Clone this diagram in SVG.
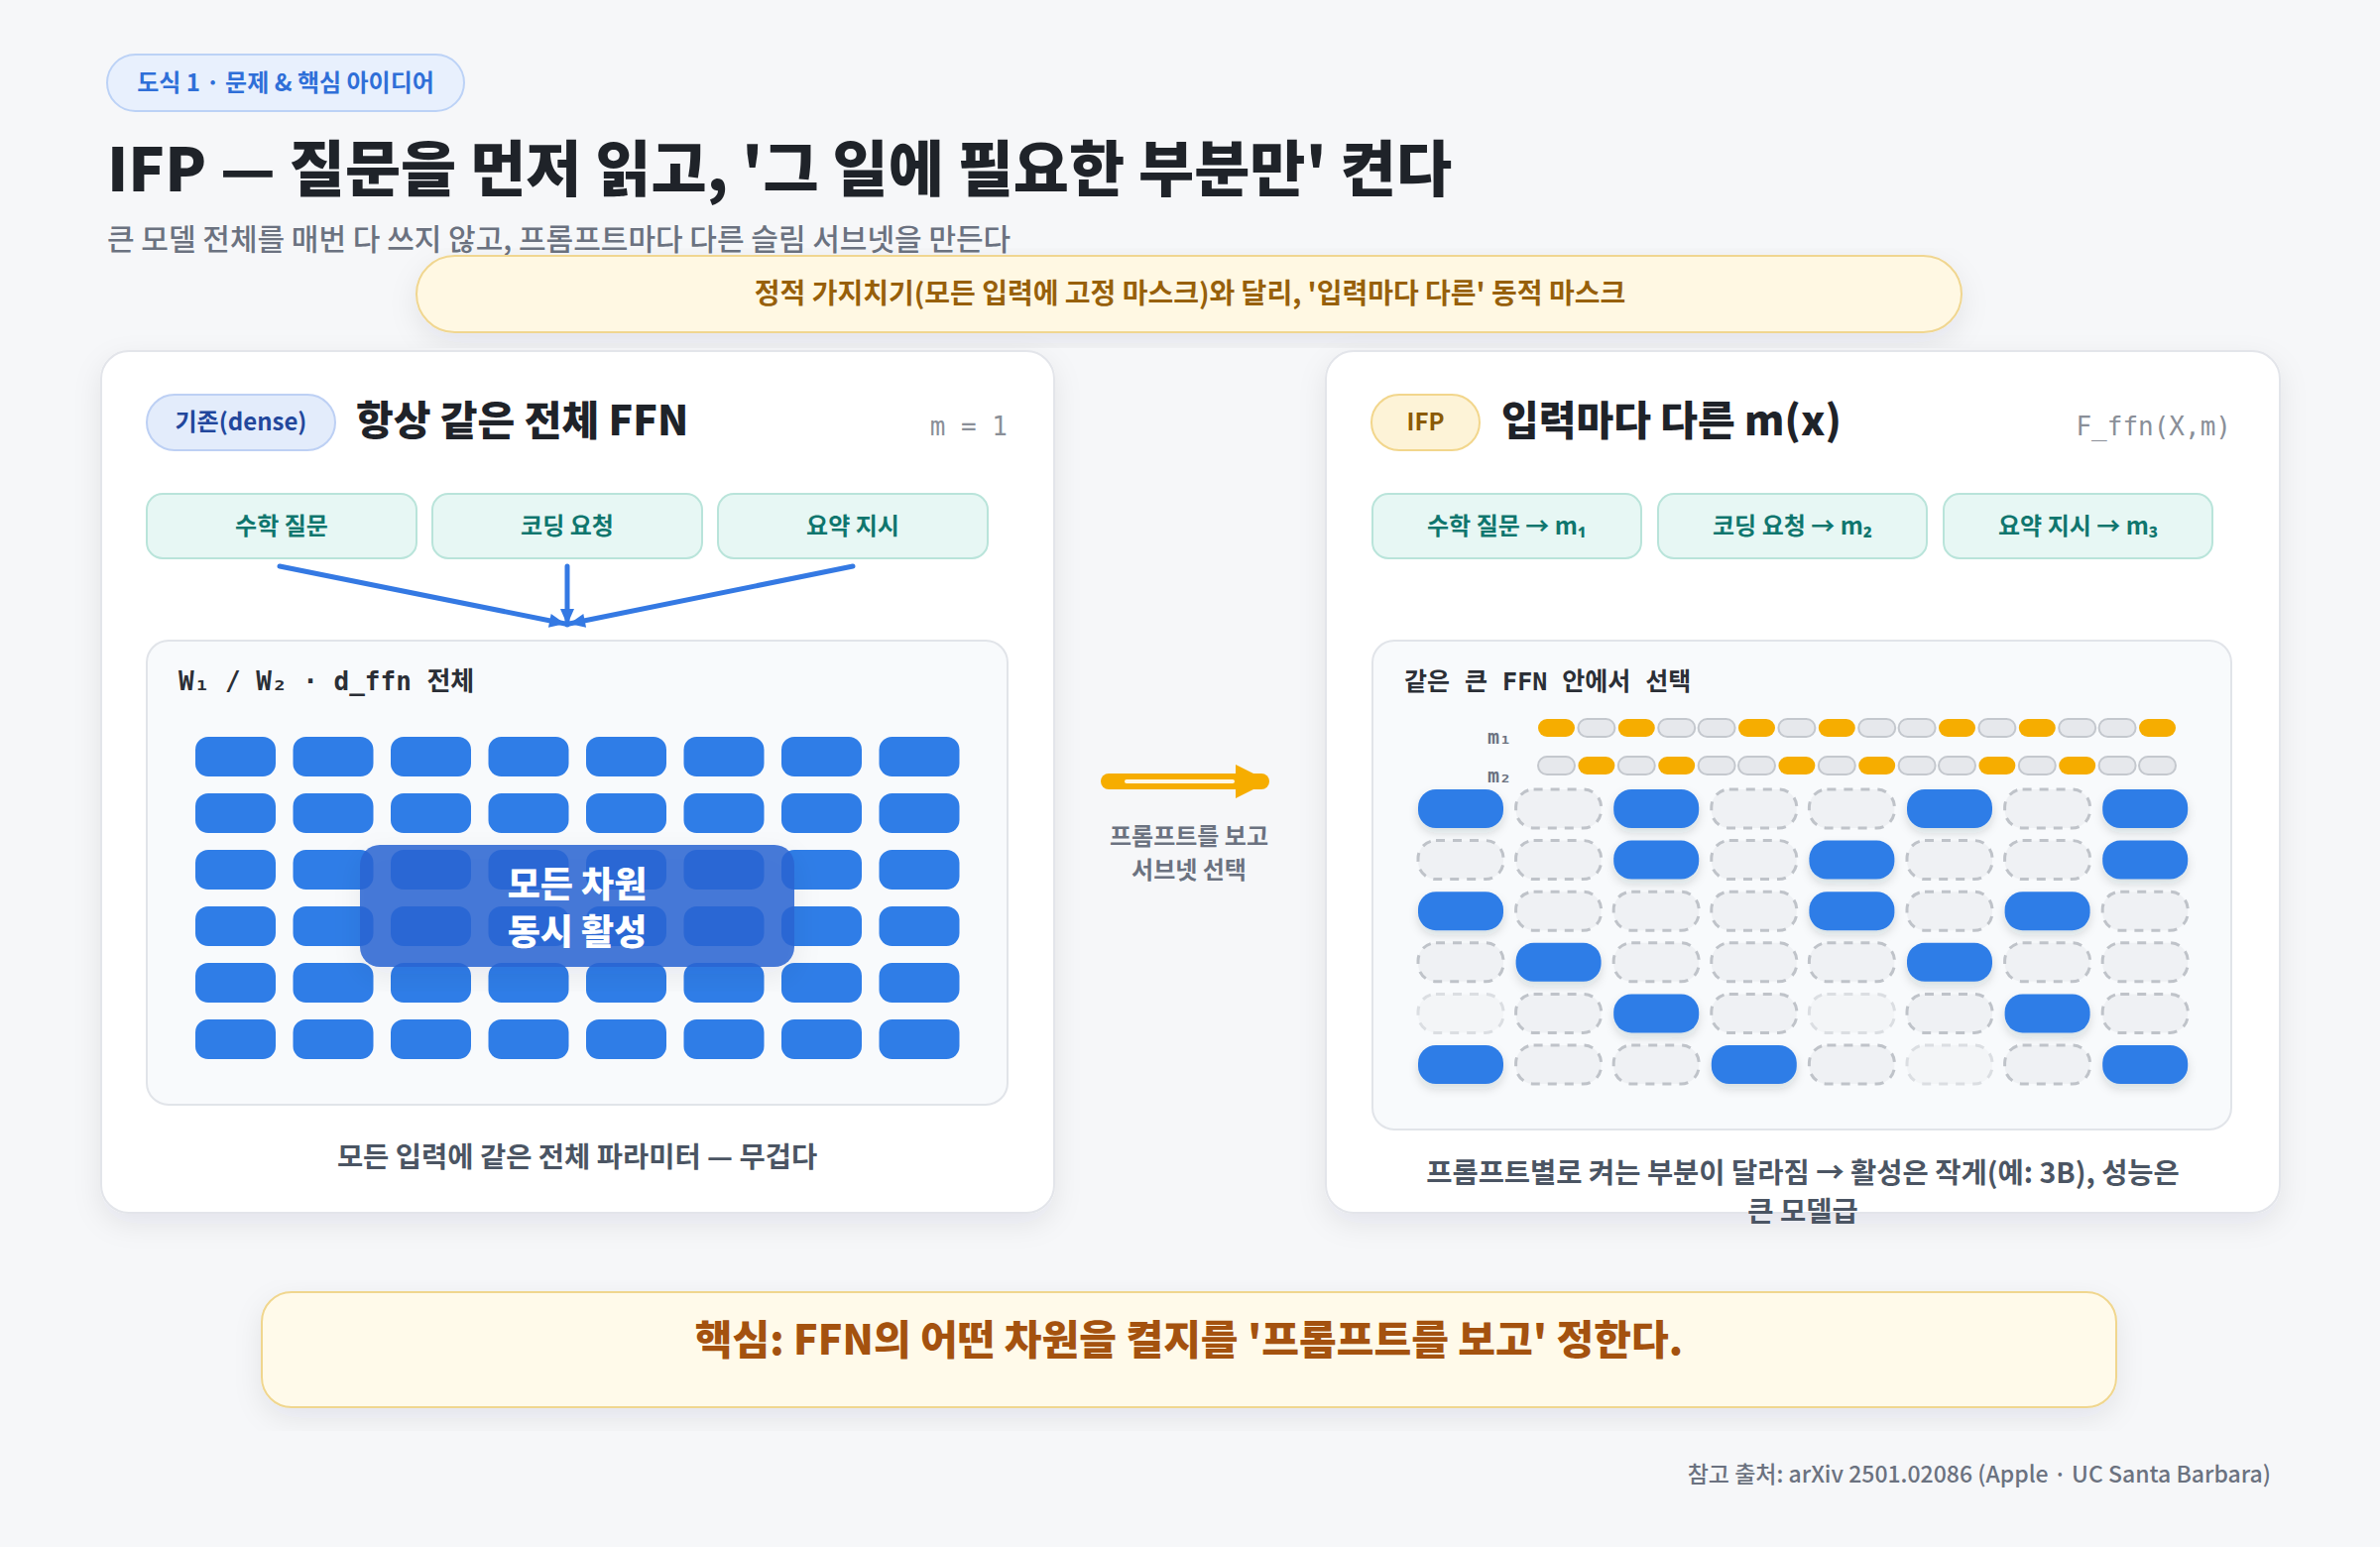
<svg xmlns="http://www.w3.org/2000/svg" width="2400" height="1560" viewBox="0 0 2400 1560">
<defs>
<filter id="shadow" x="-10%" y="-10%" width="120%" height="130%">
<feDropShadow dx="0" dy="10" stdDeviation="14" flood-color="#1f2937" flood-opacity="0.08"/>
</filter>
<filter id="cellShadow" x="-20%" y="-30%" width="140%" height="190%">
<feDropShadow dx="0" dy="5" stdDeviation="5" flood-color="#1f2937" flood-opacity="0.14"/>
</filter>
<marker id="blueHead" markerUnits="userSpaceOnUse" markerWidth="20" markerHeight="20" viewBox="0 0 20 20" refX="18" refY="10" orient="auto">
<path d="M2,3 L18,10 L2,17 Z" fill="#3479e3"/>
</marker>
<style>
text{font-family:"Noto Sans CJK KR","Noto Sans",sans-serif;}
.mono{font-family:"DejaVu Sans Mono","Liberation Mono","Noto Sans CJK KR",monospace;}
.panel{fill:#ffffff;stroke:#e3e5ea;stroke-width:2;}
.inner{fill:#f8fafc;stroke:#e1e4e9;stroke-width:2;}
.inbox{fill:#e7f7f4;stroke:#b9e4da;stroke-width:2;}
.intext{font-size:24px;font-weight:700;fill:#0f766e;text-anchor:middle;}
.cell{fill:#2f7de7;}
.bcell{fill:#2f7de7;}
.dcell{fill:#eff1f4;stroke:#bfc3c9;stroke-width:3;stroke-dasharray:9 8;}
.faded{opacity:0.5;}
.mon{fill:#f6ad00;}
.moff{fill:#e6e8ec;stroke:#c4c8ce;stroke-width:2;}
.conn{stroke:#3479e3;stroke-width:5;stroke-linecap:round;fill:none;}
</style>
</defs>

<rect x="0" y="0" width="2400" height="1560" fill="#f6f7f9"/>

<g id="header">
<rect x="108" y="55" width="360" height="57" rx="28.5" fill="#e8f0fd" stroke="#bcd2f6" stroke-width="2"/>
<text x="288" y="92" font-size="24" font-weight="700" fill="#2f6fd8" text-anchor="middle">도식 1 · 문제 &amp; 핵심 아이디어</text>
<text x="108" y="193" font-size="61" font-weight="900" fill="#1f2329">IFP — 질문을 먼저 읽고, '그 일에 필요한 부분만' 켠다</text>
<text x="108" y="252" font-size="30" font-weight="500" fill="#6b7280">큰 모델 전체를 매번 다 쓰지 않고, 프롬프트마다 다른 슬림 서브넷을 만든다</text>
</g>

<g id="note-banner">
<rect x="420" y="258" width="1558" height="77" rx="38.5" fill="#fff8e3" stroke="#f0d690" stroke-width="2" filter="url(#shadow)"/>
<text x="1200" y="306" font-size="28" font-weight="700" fill="#97600a" text-anchor="middle">정적 가지치기(모든 입력에 고정 마스크)와 달리, '입력마다 다른' 동적 마스크</text>
</g>

<g id="left-panel">
<rect class="panel" x="102" y="354" width="961" height="869" rx="28" filter="url(#shadow)"/>
<rect x="148" y="398" width="190" height="56" rx="28" fill="#e3ecfb" stroke="#bdd0f4" stroke-width="2"/>
<text x="243" y="434" font-size="24" font-weight="700" fill="#22479c" text-anchor="middle">기존(dense)</text>
<text x="359" y="439" font-size="41" font-weight="900" fill="#1f2329">항상 같은 전체 FFN</text>
<text class="mono" x="1016" y="439" font-size="26" fill="#8a8f98" text-anchor="end">m = 1</text>
</g>

<g id="left-input-math"><rect class="inbox" x="148" y="498" width="272" height="65" rx="16"/><text class="intext" x="284" y="539">수학 질문</text></g>
<g id="left-input-code"><rect class="inbox" x="436" y="498" width="272" height="65" rx="16"/><text class="intext" x="572" y="539">코딩 요청</text></g>
<g id="left-input-sum"><rect class="inbox" x="724" y="498" width="272" height="65" rx="16"/><text class="intext" x="860" y="539">요약 지시</text></g>

<g id="left-ffn">
<rect class="inner" x="148" y="646" width="868" height="468" rx="22"/>
<text class="mono" x="180" y="696" font-size="26" font-weight="700" fill="#2b2f36">W₁ / W₂ · d_ffn 전체</text>
<g>
<rect class="cell" x="197" y="743" width="81" height="40" rx="13"/><rect class="cell" x="295.5" y="743" width="81" height="40" rx="13"/><rect class="cell" x="394" y="743" width="81" height="40" rx="13"/><rect class="cell" x="492.5" y="743" width="81" height="40" rx="13"/><rect class="cell" x="591" y="743" width="81" height="40" rx="13"/><rect class="cell" x="689.5" y="743" width="81" height="40" rx="13"/><rect class="cell" x="788" y="743" width="81" height="40" rx="13"/><rect class="cell" x="886.5" y="743" width="81" height="40" rx="13"/>
<rect class="cell" x="197" y="800" width="81" height="40" rx="13"/><rect class="cell" x="295.5" y="800" width="81" height="40" rx="13"/><rect class="cell" x="394" y="800" width="81" height="40" rx="13"/><rect class="cell" x="492.5" y="800" width="81" height="40" rx="13"/><rect class="cell" x="591" y="800" width="81" height="40" rx="13"/><rect class="cell" x="689.5" y="800" width="81" height="40" rx="13"/><rect class="cell" x="788" y="800" width="81" height="40" rx="13"/><rect class="cell" x="886.5" y="800" width="81" height="40" rx="13"/>
<rect class="cell" x="197" y="857" width="81" height="40" rx="13"/><rect class="cell" x="295.5" y="857" width="81" height="40" rx="13"/><rect class="cell" x="394" y="857" width="81" height="40" rx="13"/><rect class="cell" x="492.5" y="857" width="81" height="40" rx="13"/><rect class="cell" x="591" y="857" width="81" height="40" rx="13"/><rect class="cell" x="689.5" y="857" width="81" height="40" rx="13"/><rect class="cell" x="788" y="857" width="81" height="40" rx="13"/><rect class="cell" x="886.5" y="857" width="81" height="40" rx="13"/>
<rect class="cell" x="197" y="914" width="81" height="40" rx="13"/><rect class="cell" x="295.5" y="914" width="81" height="40" rx="13"/><rect class="cell" x="394" y="914" width="81" height="40" rx="13"/><rect class="cell" x="492.5" y="914" width="81" height="40" rx="13"/><rect class="cell" x="591" y="914" width="81" height="40" rx="13"/><rect class="cell" x="689.5" y="914" width="81" height="40" rx="13"/><rect class="cell" x="788" y="914" width="81" height="40" rx="13"/><rect class="cell" x="886.5" y="914" width="81" height="40" rx="13"/>
<rect class="cell" x="197" y="971" width="81" height="40" rx="13"/><rect class="cell" x="295.5" y="971" width="81" height="40" rx="13"/><rect class="cell" x="394" y="971" width="81" height="40" rx="13"/><rect class="cell" x="492.5" y="971" width="81" height="40" rx="13"/><rect class="cell" x="591" y="971" width="81" height="40" rx="13"/><rect class="cell" x="689.5" y="971" width="81" height="40" rx="13"/><rect class="cell" x="788" y="971" width="81" height="40" rx="13"/><rect class="cell" x="886.5" y="971" width="81" height="40" rx="13"/>
<rect class="cell" x="197" y="1028" width="81" height="40" rx="13"/><rect class="cell" x="295.5" y="1028" width="81" height="40" rx="13"/><rect class="cell" x="394" y="1028" width="81" height="40" rx="13"/><rect class="cell" x="492.5" y="1028" width="81" height="40" rx="13"/><rect class="cell" x="591" y="1028" width="81" height="40" rx="13"/><rect class="cell" x="689.5" y="1028" width="81" height="40" rx="13"/><rect class="cell" x="788" y="1028" width="81" height="40" rx="13"/><rect class="cell" x="886.5" y="1028" width="81" height="40" rx="13"/>
</g>
<rect x="363" y="852" width="438" height="123" rx="20" fill="#2a64d2" fill-opacity="0.86" filter="url(#shadow)"/>
<text x="582" y="905" font-size="36" font-weight="800" fill="#ffffff" text-anchor="middle">모든 차원</text>
<text x="582" y="953" font-size="36" font-weight="800" fill="#ffffff" text-anchor="middle">동시 활성</text>
</g>
<text x="582" y="1177" font-size="28.5" font-weight="600" fill="#4b5563" text-anchor="middle">모든 입력에 같은 전체 파라미터 — 무겁다</text>

<g id="right-panel">
<rect class="panel" x="1337" y="354" width="962" height="869" rx="28" filter="url(#shadow)"/>
<rect x="1383" y="398" width="109" height="56" rx="28" fill="#fdf3d7" stroke="#f2d68c" stroke-width="2"/>
<text x="1437.5" y="434" font-size="24" font-weight="700" fill="#8a5a05" text-anchor="middle">IFP</text>
<text x="1514" y="439" font-size="41" font-weight="900" fill="#1f2329">입력마다 다른 m(x)</text>
<text class="mono" x="2250" y="439" font-size="26" fill="#8a8f98" text-anchor="end">F_ffn(X,m)</text>
</g>

<g id="right-input-math"><rect class="inbox" x="1384" y="498" width="271" height="65" rx="16"/><text class="intext" x="1519.5" y="539">수학 질문 → m₁</text></g>
<g id="right-input-code"><rect class="inbox" x="1672" y="498" width="271" height="65" rx="16"/><text class="intext" x="1807.5" y="539">코딩 요청 → m₂</text></g>
<g id="right-input-sum"><rect class="inbox" x="1960" y="498" width="271" height="65" rx="16"/><text class="intext" x="2095.5" y="539">요약 지시 → m₃</text></g>

<g id="right-ffn">
<rect class="inner" x="1384" y="646" width="866" height="493" rx="22"/>
<text class="mono" x="1416" y="696" font-size="25" font-weight="700" fill="#2b2f36">같은 큰 FFN 안에서 선택</text>
<text class="mono" x="1524" y="750" font-size="20" font-weight="700" fill="#6b7280" text-anchor="end">m₁</text>
<text class="mono" x="1524" y="789" font-size="20" font-weight="700" fill="#6b7280" text-anchor="end">m₂</text>
<g id="mask-m1">
<rect class="mon" x="1551" y="725" width="37" height="18" rx="9"/><rect class="moff" x="1591.4" y="725" width="37" height="18" rx="9"/><rect class="mon" x="1631.8" y="725" width="37" height="18" rx="9"/><rect class="moff" x="1672.2" y="725" width="37" height="18" rx="9"/><rect class="moff" x="1712.6" y="725" width="37" height="18" rx="9"/><rect class="mon" x="1753" y="725" width="37" height="18" rx="9"/><rect class="moff" x="1793.4" y="725" width="37" height="18" rx="9"/><rect class="mon" x="1833.8" y="725" width="37" height="18" rx="9"/><rect class="moff" x="1874.2" y="725" width="37" height="18" rx="9"/><rect class="moff" x="1914.6" y="725" width="37" height="18" rx="9"/><rect class="mon" x="1955" y="725" width="37" height="18" rx="9"/><rect class="moff" x="1995.4" y="725" width="37" height="18" rx="9"/><rect class="mon" x="2035.8" y="725" width="37" height="18" rx="9"/><rect class="moff" x="2076.2" y="725" width="37" height="18" rx="9"/><rect class="moff" x="2116.6" y="725" width="37" height="18" rx="9"/><rect class="mon" x="2157" y="725" width="37" height="18" rx="9"/>
</g>
<g id="mask-m2">
<rect class="moff" x="1551" y="763" width="37" height="18" rx="9"/><rect class="mon" x="1591.4" y="763" width="37" height="18" rx="9"/><rect class="moff" x="1631.8" y="763" width="37" height="18" rx="9"/><rect class="mon" x="1672.2" y="763" width="37" height="18" rx="9"/><rect class="moff" x="1712.6" y="763" width="37" height="18" rx="9"/><rect class="moff" x="1753" y="763" width="37" height="18" rx="9"/><rect class="mon" x="1793.4" y="763" width="37" height="18" rx="9"/><rect class="moff" x="1833.8" y="763" width="37" height="18" rx="9"/><rect class="mon" x="1874.2" y="763" width="37" height="18" rx="9"/><rect class="moff" x="1914.6" y="763" width="37" height="18" rx="9"/><rect class="moff" x="1955" y="763" width="37" height="18" rx="9"/><rect class="mon" x="1995.4" y="763" width="37" height="18" rx="9"/><rect class="moff" x="2035.8" y="763" width="37" height="18" rx="9"/><rect class="mon" x="2076.2" y="763" width="37" height="18" rx="9"/><rect class="moff" x="2116.6" y="763" width="37" height="18" rx="9"/><rect class="moff" x="2157" y="763" width="37" height="18" rx="9"/>
</g>
<g id="subnet">
<!-- row 1: B D B D D B D B -->
<rect class="bcell" filter="url(#cellShadow)" x="1430" y="796" width="86" height="39" rx="18"/>
<rect class="dcell" x="1528.6" y="796" width="86" height="39" rx="18"/>
<rect class="bcell" filter="url(#cellShadow)" x="1627.2" y="796" width="86" height="39" rx="18"/>
<rect class="dcell" x="1725.8" y="796" width="86" height="39" rx="18"/>
<rect class="dcell" x="1824.4" y="796" width="86" height="39" rx="18"/>
<rect class="bcell" filter="url(#cellShadow)" x="1923" y="796" width="86" height="39" rx="18"/>
<rect class="dcell" x="2021.6" y="796" width="86" height="39" rx="18"/>
<rect class="bcell" filter="url(#cellShadow)" x="2120.2" y="796" width="86" height="39" rx="18"/>
<!-- row 2: D D B D B D D B -->
<rect class="dcell" x="1430" y="847.6" width="86" height="39" rx="18"/>
<rect class="dcell" x="1528.6" y="847.6" width="86" height="39" rx="18"/>
<rect class="bcell" filter="url(#cellShadow)" x="1627.2" y="847.6" width="86" height="39" rx="18"/>
<rect class="dcell" x="1725.8" y="847.6" width="86" height="39" rx="18"/>
<rect class="bcell" filter="url(#cellShadow)" x="1824.4" y="847.6" width="86" height="39" rx="18"/>
<rect class="dcell" x="1923" y="847.6" width="86" height="39" rx="18"/>
<rect class="dcell" x="2021.6" y="847.6" width="86" height="39" rx="18"/>
<rect class="bcell" filter="url(#cellShadow)" x="2120.2" y="847.6" width="86" height="39" rx="18"/>
<!-- row 3: B D D D B D B D -->
<rect class="bcell" filter="url(#cellShadow)" x="1430" y="899.2" width="86" height="39" rx="18"/>
<rect class="dcell" x="1528.6" y="899.2" width="86" height="39" rx="18"/>
<rect class="dcell" x="1627.2" y="899.2" width="86" height="39" rx="18"/>
<rect class="dcell" x="1725.8" y="899.2" width="86" height="39" rx="18"/>
<rect class="bcell" filter="url(#cellShadow)" x="1824.4" y="899.2" width="86" height="39" rx="18"/>
<rect class="dcell" x="1923" y="899.2" width="86" height="39" rx="18"/>
<rect class="bcell" filter="url(#cellShadow)" x="2021.6" y="899.2" width="86" height="39" rx="18"/>
<rect class="dcell" x="2120.2" y="899.2" width="86" height="39" rx="18"/>
<!-- row 4: D B D D D B D D -->
<rect class="dcell" x="1430" y="950.8" width="86" height="39" rx="18"/>
<rect class="bcell" filter="url(#cellShadow)" x="1528.6" y="950.8" width="86" height="39" rx="18"/>
<rect class="dcell" x="1627.2" y="950.8" width="86" height="39" rx="18"/>
<rect class="dcell" x="1725.8" y="950.8" width="86" height="39" rx="18"/>
<rect class="dcell" x="1824.4" y="950.8" width="86" height="39" rx="18"/>
<rect class="bcell" filter="url(#cellShadow)" x="1923" y="950.8" width="86" height="39" rx="18"/>
<rect class="dcell" x="2021.6" y="950.8" width="86" height="39" rx="18"/>
<rect class="dcell" x="2120.2" y="950.8" width="86" height="39" rx="18"/>
<!-- row 5: D D B D D D B D -->
<rect class="dcell faded" x="1430" y="1002.4" width="86" height="39" rx="18"/>
<rect class="dcell" x="1528.6" y="1002.4" width="86" height="39" rx="18"/>
<rect class="bcell" filter="url(#cellShadow)" x="1627.2" y="1002.4" width="86" height="39" rx="18"/>
<rect class="dcell" x="1725.8" y="1002.4" width="86" height="39" rx="18"/>
<rect class="dcell faded" x="1824.4" y="1002.4" width="86" height="39" rx="18"/>
<rect class="dcell" x="1923" y="1002.4" width="86" height="39" rx="18"/>
<rect class="bcell" filter="url(#cellShadow)" x="2021.6" y="1002.4" width="86" height="39" rx="18"/>
<rect class="dcell" x="2120.2" y="1002.4" width="86" height="39" rx="18"/>
<!-- row 6: B D D B D D D B -->
<rect class="bcell" filter="url(#cellShadow)" x="1430" y="1054" width="86" height="39" rx="18"/>
<rect class="dcell" x="1528.6" y="1054" width="86" height="39" rx="18"/>
<rect class="dcell" x="1627.2" y="1054" width="86" height="39" rx="18"/>
<rect class="bcell" filter="url(#cellShadow)" x="1725.8" y="1054" width="86" height="39" rx="18"/>
<rect class="dcell" x="1824.4" y="1054" width="86" height="39" rx="18"/>
<rect class="dcell faded" x="1923" y="1054" width="86" height="39" rx="18"/>
<rect class="dcell" x="2021.6" y="1054" width="86" height="39" rx="18"/>
<rect class="bcell" filter="url(#cellShadow)" x="2120.2" y="1054" width="86" height="39" rx="18"/>
</g>
</g>
<text x="1818" y="1193" font-size="28.5" font-weight="600" fill="#4b5563" text-anchor="middle">프롬프트별로 켜는 부분이 달라짐 → 활성은 작게(예: 3B), 성능은</text>
<text x="1818" y="1232" font-size="28.5" font-weight="600" fill="#4b5563" text-anchor="middle">큰 모델급</text>

<g id="middle-label">
<text x="1199" y="852" font-size="24" font-weight="700" fill="#6b7280" text-anchor="middle">프롬프트를 보고</text>
<text x="1199" y="886" font-size="24" font-weight="700" fill="#6b7280" text-anchor="middle">서브넷 선택</text>
</g>

<g id="connectors">
<line class="conn" x1="282" y1="571" x2="570" y2="629" marker-end="url(#blueHead)"/>
<line class="conn" x1="572" y1="571" x2="572" y2="630" marker-end="url(#blueHead)"/>
<line class="conn" x1="860" y1="571" x2="574" y2="629" marker-end="url(#blueHead)"/>
<line x1="1118" y1="788" x2="1272" y2="788" stroke="#f6ad00" stroke-width="16" stroke-linecap="round"/>
<polygon points="1246,771 1246,805 1280,788" fill="#f6ad00"/>
<line x1="1136" y1="788" x2="1243" y2="788" stroke="#fff8e6" stroke-width="4" stroke-linecap="round"/>
</g>

<g id="key-banner">
<rect x="264" y="1303" width="1870" height="116" rx="30" fill="#fffaea" stroke="#f0d68e" stroke-width="2" filter="url(#shadow)"/>
<text x="1199" y="1366" font-size="41" font-weight="800" fill="#a4520f" text-anchor="middle">핵심: FFN의 어떤 차원을 켤지를 '프롬프트를 보고' 정한다.</text>
</g>

<text x="2290" y="1495" font-size="23" font-weight="500" fill="#6b7280" text-anchor="end">참고 출처: arXiv 2501.02086 (Apple · UC Santa Barbara)</text>
</svg>
